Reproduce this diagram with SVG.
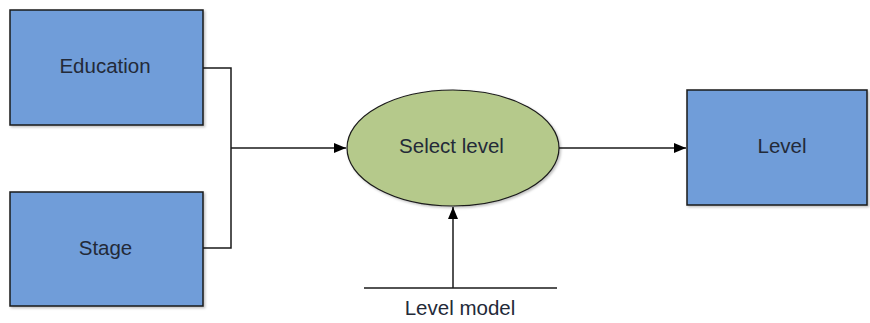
<svg xmlns="http://www.w3.org/2000/svg" width="870" height="323" viewBox="0 0 870 323">
<defs>
<marker id="arr" markerWidth="12" markerHeight="10" refX="12" refY="5" orient="auto" markerUnits="userSpaceOnUse">
<path d="M0,0 L12,5 L0,10 Z" fill="#000"/>
</marker>
<filter id="sh" x="-5%" y="-5%" width="115%" height="115%">
<feDropShadow dx="1.5" dy="1.5" stdDeviation="1" flood-color="#000" flood-opacity="0.25"/>
</filter>
</defs>
<style>
.box{fill:#6f9dd9;stroke:#1a1a1a;stroke-width:1.5}
.ell{fill:#b5c98b;stroke:#1a1a1a;stroke-width:1.2}
.lbl{font-family:"Liberation Sans",Arial,sans-serif;font-size:20.5px;fill:#232a38;text-anchor:middle}
.ln{fill:none;stroke:#1a1a1a;stroke-width:1.5}
</style>
<g id="connectors">
<path class="ln" d="M203,68 H231 V248 H203"/>
<path class="ln" d="M231,148 H346" marker-end="url(#arr)"/>
<path class="ln" d="M559,148 H686" marker-end="url(#arr)"/>
<path class="ln" d="M453,288 V207" marker-end="url(#arr)"/>
<path class="ln" d="M364,288 H557"/>
<text class="lbl" x="460" y="315">Level model</text>
</g>
<g id="education"><rect class="box" x="10" y="10" width="193" height="115" filter="url(#sh)"/><text class="lbl" x="105" y="73">Education</text></g>
<g id="stage"><rect class="box" x="10" y="192" width="193" height="114" filter="url(#sh)"/><text class="lbl" x="105.5" y="255">Stage</text></g>
<g id="select"><ellipse class="ell" cx="453" cy="148" rx="106" ry="58" filter="url(#sh)"/><text class="lbl" x="451.5" y="153">Select level</text></g>
<g id="level"><rect class="box" x="687" y="90" width="180" height="115" filter="url(#sh)"/><text class="lbl" x="782" y="153">Level</text></g>
</svg>
